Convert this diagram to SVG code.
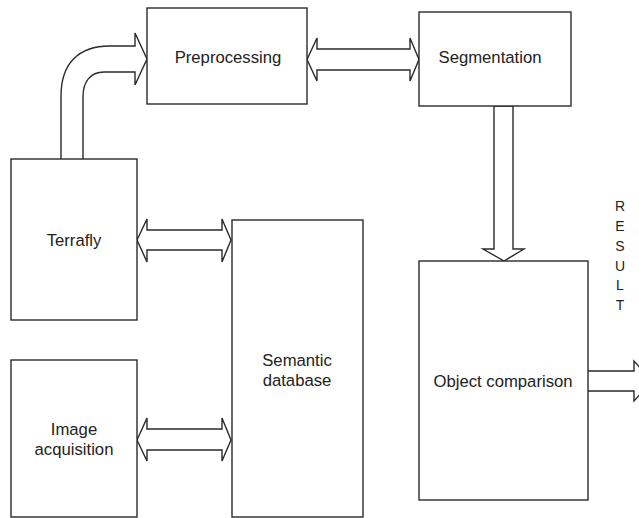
<svg xmlns="http://www.w3.org/2000/svg" width="639" height="518" viewBox="0 0 639 518">
<style>
.box{fill:#fff;stroke:#2a2a2a;stroke-width:1.4}
.arr{fill:#fff;stroke:#2a2a2a;stroke-width:1.4;stroke-linejoin:miter}
text{font-family:"Liberation Sans",Arial,sans-serif;font-size:16.7px;fill:#222;text-anchor:middle}
.res{font-size:14px}
</style>
<rect width="639" height="518" fill="#fff"/>
<g id="connectors">
<path class="arr" d="M61,159 V96 C61,64 78,46 110,46 H135 V33 L147,59 L135,85 V72 H104 C90,72 83,82 83,97 V159"/>
<path class="arr" d="M307,59.5 L317,38 V49 H410 V38 L419,59.5 L410,81 V70 H317 V81 Z"/>
<path class="arr" d="M137,240 L147,219 V230 H222 V219 L231,240 L222,262 V250 H147 V262 Z"/>
<path class="arr" d="M137,440 L147,418 V429 H222 V418 L231,440 L222,461 V450 H147 V461 Z"/>
<path class="arr" d="M494,106 H513 V249 H524 L504,261 L483,249 H494 Z"/>
<path class="arr" d="M588,371 H634 V361 L652,381 L634,401 V391 H588"/>
</g>
<g id="preprocessing"><rect class="box" x="147" y="8" width="160" height="96"/><text x="228" y="63">Preprocessing</text></g>
<g id="segmentation"><rect class="box" x="419" y="12" width="152" height="94"/><text x="490" y="63">Segmentation</text></g>
<g id="terrafly"><rect class="box" x="11" y="159" width="126" height="161"/><text x="74" y="246">Terrafly</text></g>
<g id="image-acquisition"><rect class="box" x="11" y="360" width="126" height="157"/><text x="74" y="435">Image</text><text x="74" y="455">acquisition</text></g>
<g id="semantic-database"><rect class="box" x="232" y="220" width="131" height="297"/><text x="297" y="366">Semantic</text><text x="297" y="386">database</text></g>
<g id="object-comparison"><rect class="box" x="419" y="261" width="169" height="239"/><text x="503" y="387">Object comparison</text></g>
<g id="result-label">
<text class="res" x="620" y="211">R</text>
<text class="res" x="620" y="231">E</text>
<text class="res" x="620" y="251">S</text>
<text class="res" x="620" y="271">U</text>
<text class="res" x="620" y="290">L</text>
<text class="res" x="620" y="310">T</text>
</g>
</svg>
